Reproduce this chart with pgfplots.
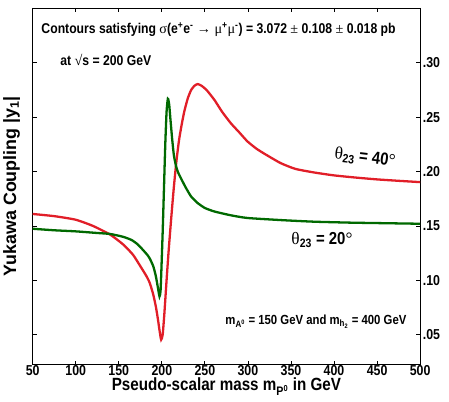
\documentclass[border=0pt]{standalone}
\usepackage{fontspec}
\setmainfont{Liberation Sans}[FakeStretch=0.86]
\newfontfamily\wide{Liberation Sans}
\newfontfamily\sym{Liberation Serif}
\usepackage{pgfplots}
\pgfplotsset{compat=1.18}
\definecolor{cred}{RGB}{225,30,40}
\definecolor{cgreen}{RGB}{0,105,0}
\begin{document}
\begin{tikzpicture}
\begin{axis}[
  scale only axis, width=389bp, height=358bp,
  xmin=50, xmax=500, ymin=0.0225, ymax=0.3505,
  xtick={50,100,...,500},
  ytick={0.05,0.10,0.15,0.20,0.25,0.30},
  yticklabels={.05,.10,.15,.20,.25,.30},
  yticklabel pos=right,
  tick align=inside, tick pos=both,
  major tick length=4bp,
  axis line style={line width=0.9bp},
  every tick/.style={black, line width=0.8bp},
  /pgf/number format/assume math mode=true,
  tick label style={font=\fontsize{14.5}{16}\selectfont\bfseries, inner sep=1.5bp},
  xticklabel style={yshift=1bp},
  yticklabel style={xshift=1bp},
  xlabel={Pseudo-scalar mass m\textsubscript{P\textsuperscript{0}} in GeV},
  xlabel style={font=\fontsize{17.8}{19}\selectfont\bfseries, inner sep=1bp},
  ylabel={Yukawa Coupling |y\textsubscript{1}|},
  ylabel style={at={([xshift=-9bp]axis description cs:0,0.5)}, anchor=south, font=\wide\fontsize{18}{20}\selectfont\bfseries},
  clip=true,
]
\addplot[cred, line width=2.3bp, smooth, tension=0.35] coordinates {
(50,0.161) (75,0.159) (100,0.1557) (120,0.150) (140,0.142) (155,0.133)
(166.5,0.1235) (175,0.113) (182,0.104) (186,0.0975) (190,0.087) (193,0.076)
(195.5,0.064) (197.5,0.053) (199.2,0.0454) (201,0.050) (203,0.070) (205.5,0.100)
(208,0.128) (211,0.158) (214,0.186) (217,0.210) (220,0.229) (223,0.243) (226,0.255)
(230,0.267) (234,0.275) (238,0.279) (241.7,0.2805) (246,0.279) (252,0.275)
(261,0.266) (270,0.255) (280,0.2446) (290,0.236) (299.5,0.2277) (310,0.221)
(320,0.216) (338,0.2078) (355,0.2025) (376.6,0.1992) (400,0.1965) (425,0.1945)
(450,0.1928) (475,0.1915) (500,0.1903)};
\addplot[cgreen, line width=2.3bp, smooth, tension=0.35] coordinates {
(50,0.1474) (75,0.146) (100,0.145) (125,0.1435) (140,0.1426) (155,0.140)
(165,0.137) (172,0.133) (178,0.128) (183,0.1235) (186,0.120) (190,0.113)
(193,0.104) (195.5,0.093) (197.3,0.0852) (198.5,0.090) (199.5,0.110) (201,0.145)
(202.5,0.185) (204,0.225) (205.5,0.255) (207,0.267) (208.5,0.262) (210,0.248)
(212,0.230) (214,0.215) (216.6,0.2047) (219,0.199) (222.4,0.1935) (228,0.185)
(234,0.1771) (241.7,0.171) (250,0.1665) (261,0.1633) (280,0.1598) (299.5,0.1573)
(340,0.1553) (376.6,0.1539) (420,0.153) (460,0.1525) (500,0.152)};
\node[anchor=west, font=\fontsize{14.3}{15}\selectfont\bfseries, inner sep=0pt] at (axis cs:60,0.3303)
  {Contours satisfying {\sym\mdseries σ}(e\textsuperscript{+}e\textsuperscript{-} {\sym\mdseries →} {\sym\mdseries μ}\textsuperscript{+}{\sym\mdseries μ}\textsuperscript{-}) = 3.072 {\sym\mdseries ±} 0.108 {\sym\mdseries ±} 0.018 pb};
\node[anchor=west, font=\fontsize{14.3}{15}\selectfont\bfseries, inner sep=0pt] at (axis cs:82,0.3028)
  {at {\sym\mdseries √}s = 200 GeV};
\node[font=\fontsize{17.5}{19}\selectfont\bfseries, rotate=-7] at (axis cs:436,0.2127)
  {{\sym\mdseries θ}\textsubscript{23} = 40{\sym\mdseries °}};
\node[font=\fontsize{17.5}{19}\selectfont\bfseries] at (axis cs:386,0.1373)
  {{\sym\mdseries θ}\textsubscript{23} = 20{\sym\mdseries °}};
\node[font=\fontsize{13.3}{15}\selectfont\bfseries] at (axis cs:379,0.062)
  {m\textsubscript{A\textsuperscript{0}} = 150 GeV and m\textsubscript{h\textsubscript{2}} = 400 GeV};
\end{axis}
\path ([shift={(-31bp,-37bp)}]current axis.south west) rectangle ([shift={(29bp,8bp)}]current axis.north east);
\end{tikzpicture}
\end{document}
